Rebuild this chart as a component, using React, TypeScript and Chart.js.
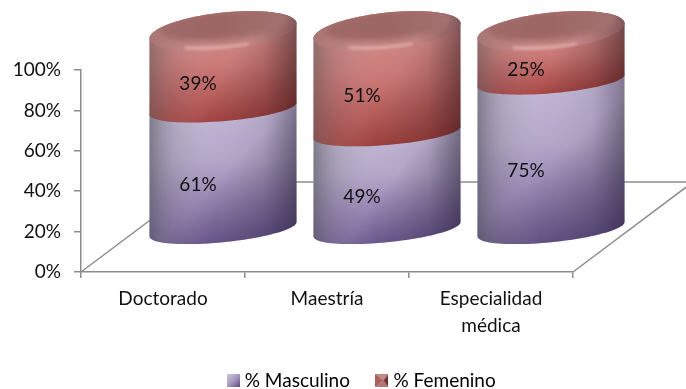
import React, { useEffect, useRef } from "react";
import { Chart, registerables } from "chart.js";

Chart.register(...registerables);

const categories = ["Doctorado", "Maestría", ["Especialidad", "médica"]];
const masculino = [61, 49, 75];
const femenino = [39, 51, 25];
const seriesNames = ["% Masculino", "% Femenino"];
const axisTicks = [0, 20, 40, 60, 80, 100];

const FONT = "Lato";
const FONT_SIZE = 19;
const AXIS = "#8c8c8c";
const SHIFT_X = 60;
const LIFT_Y = 42;

type Ring = { cx: number; cy: number; r: number; a: number; b: number };

const pt = (g: Ring, t: number): [number, number] => [
  g.cx + g.r * Math.cos(t),
  g.cy + g.a * Math.sin(t) + g.b * Math.cos(t),
];

function trace(ctx: CanvasRenderingContext2D, g: Ring, from: number, to: number, move = false) {
  const n = 48;
  for (let i = 0; i <= n; i++) {
    const [x, y] = pt(g, from + ((to - from) * i) / n);
    if (i === 0 && move) ctx.moveTo(x, y);
    else ctx.lineTo(x, y);
  }
}

const palettes = [
  {
    v: ["#c4b9d6", "#b3a6c8", "#755f9c"],
    h: [
      [0, "rgba(85,90,95,0.62)"],
      [0.16, "rgba(130,130,135,0.28)"],
      [0.42, "rgba(200,200,210,0.04)"],
      [0.78, "rgba(60,50,80,0.1)"],
      [1, "rgba(45,40,60,0.45)"],
    ],
    d: "rgba(35,20,60,0.42)",
  },
  {
    v: ["#d48f8d", "#cb7876", "#a84240"],
    h: [
      [0, "rgba(100,90,90,0.58)"],
      [0.16, "rgba(130,110,110,0.25)"],
      [0.42, "rgba(200,180,180,0.04)"],
      [0.78, "rgba(70,30,30,0.1)"],
      [1, "rgba(50,25,28,0.45)"],
    ],
    d: "rgba(50,8,10,0.3)",
  },
] as const;

function fillSegment(ctx: CanvasRenderingContext2D, idx: number, x0: number, y0: number, x1: number, y1: number) {
  const p = palettes[idx];
  const gv = ctx.createLinearGradient(0, y0, 0, y1);
  gv.addColorStop(0, p.v[0]);
  gv.addColorStop(0.4, p.v[1]);
  gv.addColorStop(1, p.v[2]);
  ctx.fillStyle = gv;
  ctx.fill();
  const gh = ctx.createLinearGradient(x0, 0, x1, 0);
  p.h.forEach(([o, c]) => gh.addColorStop(o as number, c as string));
  ctx.fillStyle = gh;
  ctx.fill();
  const gd = ctx.createLinearGradient((x0 + x1) / 2, (y0 + y1) / 2, x1, y1);
  gd.addColorStop(0, "rgba(0,0,0,0)");
  gd.addColorStop(1, p.d);
  ctx.fillStyle = gd;
  ctx.fill();
}

const floorPlugin = {
  id: "floor3d",
  beforeDatasetsDraw(chart: any) {
    const { ctx, chartArea: c, width } = chart;
    const dx = SHIFT_X * 2;
    const dy = LIFT_Y * 2 + 6;
    ctx.save();
    ctx.strokeStyle = AXIS;
    ctx.lineWidth = 1.5;
    ctx.beginPath();
    ctx.moveTo(c.left, c.bottom);
    ctx.lineTo(c.left + dx, c.bottom - dy);
    ctx.lineTo(width, c.bottom - dy);
    ctx.moveTo(c.right, c.bottom);
    ctx.lineTo(c.right + dx, c.bottom - dy);
    ctx.stroke();
    ctx.restore();
  },
};

const cylinderPlugin = {
  id: "cylinders",
  afterDatasetsDraw(chart: any) {
    const { ctx, chartArea: c } = chart;
    const mapY = (p: number) => c.bottom - LIFT_Y + (p - c.bottom) * 0.985;
    const count = chart.data.labels.length;
    ctx.save();
    for (let j = 0; j < count; j++) {
      const first = chart.getDatasetMeta(0).data[j];
      const cx = first.x + SHIFT_X;
      const r = first.width / 2;
      chart.data.datasets.forEach((_: any, i: number) => {
        const el = chart.getDatasetMeta(i).data[j];
        const low: Ring = { cx, cy: mapY(el.base), r, a: i === 0 ? 13 : 12.5, b: i === 0 ? -7.2 : -6 };
        const top = i === 1;
        const high: Ring = { cx, cy: mapY(el.y), r, a: top ? 18.5 : 12.5, b: top ? -7.5 : -6 };
        ctx.beginPath();
        ctx.moveTo(...pt(high, Math.PI));
        ctx.lineTo(...pt(low, Math.PI));
        trace(ctx, low, Math.PI, 0);
        ctx.lineTo(...pt(high, 0));
        trace(ctx, high, 0, -Math.PI);
        ctx.closePath();
        fillSegment(ctx, i, cx - r, mapY(el.y) - 4, cx + r, mapY(el.base) + 14);

        if (top) {
          const rim = new Path2D();
          const n = 96;
          for (let k = 0; k <= n; k++) {
            const [x, y] = pt(high, (k / n) * Math.PI * 2);
            if (k === 0) rim.moveTo(x, y);
            else rim.lineTo(x, y);
          }
          rim.closePath();
          const band = ctx.createLinearGradient(cx - r, 0, cx + r, 0);
          band.addColorStop(0, "#a87675");
          band.addColorStop(0.35, "#c98c8a");
          band.addColorStop(0.7, "#c18482");
          band.addColorStop(1, "#83585a");
          ctx.fillStyle = band;
          ctx.fill(rim);

          ctx.save();
          ctx.clip(rim);
          const face: Ring = { cx: cx + 1, cy: high.cy - 6, r: r - 9, a: 15, b: -6 };
          ctx.filter = "blur(3px)";
          ctx.beginPath();
          trace(ctx, face, 0, Math.PI * 2, true);
          ctx.closePath();
          const fg = ctx.createLinearGradient(cx - r, 0, cx + r, 0);
          fg.addColorStop(0, "#a06a69");
          fg.addColorStop(0.5, "#9c6664");
          fg.addColorStop(1, "#a47473");
          ctx.fillStyle = fg;
          ctx.fill();
          ctx.restore();

          ctx.save();
          ctx.filter = "blur(1.6px)";
          ctx.strokeStyle = "rgba(255,205,200,0.6)";
          ctx.lineWidth = 2.4;
          ctx.beginPath();
          const glow: Ring = { cx, cy: high.cy - 2, r: r - 3, a: 18, b: -6.5 };
          trace(ctx, glow, 1.2, 2.15, true);
          ctx.stroke();
          ctx.restore();
        }
      });
    }
    // value labels, placed from the same bar elements
    ctx.fillStyle = "#111";
    ctx.font = `${FONT_SIZE}px ${FONT}`;
    ctx.textAlign = "center";
    ctx.textBaseline = "middle";
    chart.data.datasets.forEach((ds: any, i: number) => {
      chart.getDatasetMeta(i).data.forEach((el: any, j: number) => {
        ctx.fillText(`${ds.data[j]}%`, el.x + 35, (el.y + el.base) / 2 - 25.5);
      });
    });
    ctx.restore();
  },
};

const legendPlacement = {
  id: "legendPlacement",
  afterLayout(chart: any) {
    const l = chart.legend;
    const h = l.height;
    l.left = 41;
    l.right = 686;
    l.top = 341;
    l.bottom = 341 + h;
    // tick labels are clipped to the scale box: let the two-line label fit
    chart.scales.x.bottom = 345;
  },
};

function makeIcon(kind: number): HTMLCanvasElement {
  const cv = document.createElement("canvas");
  cv.width = 13;
  cv.height = 13;
  const g = cv.getContext("2d")!;
  if (kind === 0) {
    const lg = g.createLinearGradient(0, 0, 13, 13);
    lg.addColorStop(0, "#cfc8de");
    lg.addColorStop(0.5, "#a79ac0");
    lg.addColorStop(1, "#5d4a80");
    g.fillStyle = lg;
    g.fillRect(0, 0, 13, 13);
  } else {
    const tri = (pts: number[][], col: string) => {
      g.fillStyle = col;
      g.beginPath();
      pts.forEach(([x, y], k) => (k ? g.lineTo(x, y) : g.moveTo(x, y)));
      g.closePath();
      g.fill();
    };
    tri([[0, 0], [13, 0], [8, 6.5]], "#c08a88");
    tri([[0, 13], [13, 13], [8, 6.5]], "#b57472");
    tri([[0, 0], [0, 13], [8, 6.5]], "#a85f5d");
    tri([[13, 0], [13, 13], [8, 6.5]], "#6a3030");
  }
  return cv;
}

export default function App() {
  const ref = useRef<HTMLCanvasElement | null>(null);
  useEffect(() => {
    const icons = [makeIcon(0), makeIcon(1)];
    const chart = new Chart(ref.current!, {
      type: "bar",
      plugins: [floorPlugin, cylinderPlugin, legendPlacement],
      data: {
        labels: categories as any,
        datasets: [
          { label: seriesNames[0], data: masculino, backgroundColor: "transparent", borderWidth: 0 },
          { label: seriesNames[1], data: femenino, backgroundColor: "transparent", borderWidth: 0 },
        ],
      },
      options: {
        responsive: false,
        animation: false,
        devicePixelRatio: 1,
        layout: { padding: { left: 0, right: 113, top: 70, bottom: 0 } },
        datasets: { bar: { categoryPercentage: 1, barPercentage: 0.896 } },
        scales: {
          x: {
            stacked: true,
            border: { color: AXIS, width: 1.5 },
            grid: { offset: true, drawOnChartArea: false, drawTicks: true, color: AXIS, tickLength: 6, lineWidth: 1.5 },
            ticks: {
              color: "#111",
              padding: 8,
              maxRotation: 0,
              autoSkip: false,
              font: { family: FONT, size: FONT_SIZE, lineHeight: 1.4 },
            },
            afterFit(s: any) {
              s.height = 117 - (s.chart.legend?.height ?? 44);
            },
          },
          y: {
            stacked: true,
            min: axisTicks[0],
            max: axisTicks[axisTicks.length - 1],
            border: { color: AXIS, width: 1.5 },
            grid: { drawOnChartArea: false, color: AXIS, tickLength: 7, lineWidth: 1.5 },
            afterBuildTicks(s: any) {
              s.ticks = axisTicks.map((value) => ({ value }));
            },
            ticks: {
              color: "#111",
              padding: 13,
              callback: (v: any) => `${v}%`,
              font: { family: FONT, size: FONT_SIZE },
            },
            afterFit(s: any) {
              s.width = 81;
            },
          },
        },
        plugins: {
          tooltip: { enabled: false },
          legend: {
            position: "bottom",
            labels: {
              usePointStyle: true,
              boxWidth: 4,
              padding: 30,
              color: "#111",
              font: { family: FONT, size: FONT_SIZE },
              generateLabels: () =>
                seriesNames.map((text, i) => ({
                  text,
                  pointStyle: icons[i],
                  datasetIndex: i,
                  fillStyle: "transparent",
                  strokeStyle: "transparent",
                  lineWidth: 0,
                  hidden: false,
                })),
            },
          },
        },
      } as any,
    });
    return () => chart.destroy();
  }, []);
  return (
    <div style={{ position: "fixed", left: 0, top: 0, width: 686, height: 389, background: "#fff" }}>
      <canvas ref={ref} width={686} height={389} style={{ display: "block" }} />
    </div>
  );
}
